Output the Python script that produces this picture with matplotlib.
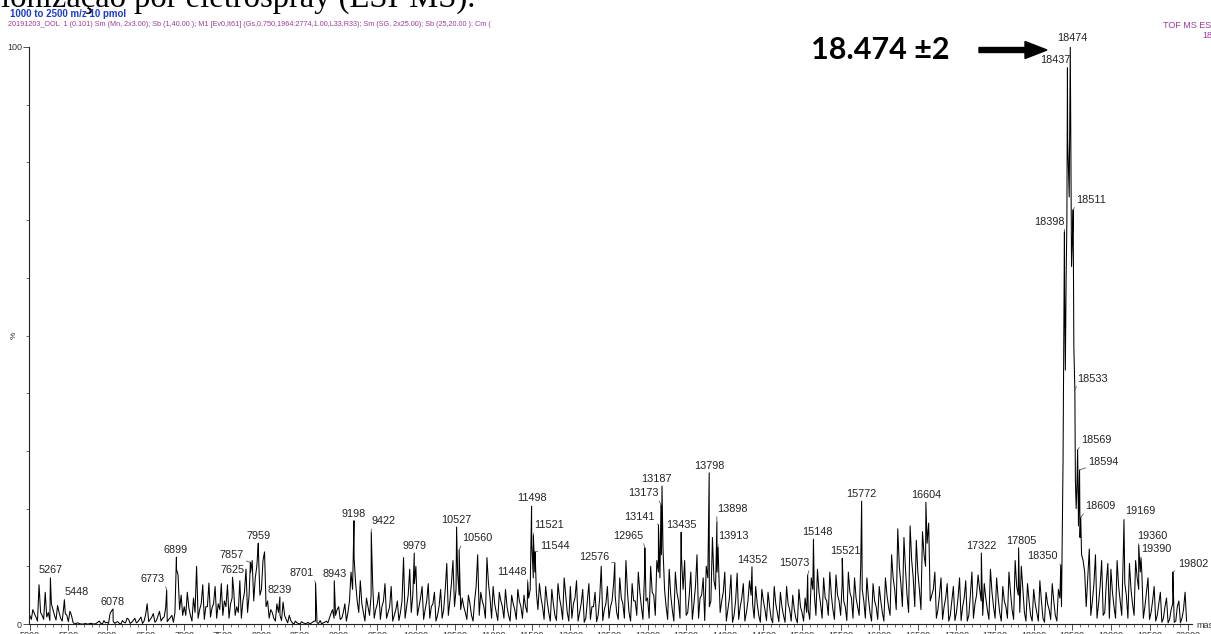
import matplotlib
matplotlib.use("Agg")
import matplotlib.pyplot as plt
from matplotlib.patches import FancyArrow
from matplotlib.transforms import IdentityTransform
from matplotlib.ticker import MultipleLocator
import numpy as np

W, H = 1211, 634

# labelled peaks: deconvoluted mass (Da) and relative intensity (%)
peak_mass = [5267, 5448, 6078, 6773, 6899, 7625, 7857, 7959, 8239, 8701,
             8943, 9198, 9422, 9979, 10527, 10560, 11448, 11498, 11521, 11544,
             12576, 12965, 13141, 13173, 13187, 13435, 13798, 13898, 13913, 14352,
             15073, 15148, 15521, 15772, 16604, 17322, 17805, 18350, 18398, 18437,
             18474, 18511, 18533, 18569, 18594, 18609, 19169, 19360, 19390, 19802]
peak_int = [8.0, 4.2, 2.6, 5.9, 11.6, 8.1, 10.7, 14.0, 4.7, 7.1,
            7.5, 17.9, 15.9, 12.3, 16.8, 12.8, 7.3, 20.4, 15.4, 12.5,
            10.6, 13.2, 17.2, 20.6, 23.9, 15.9, 26.2, 17.7, 13.3, 9.9,
            8.5, 14.7, 11.4, 21.3, 21.1, 12.3, 13.2, 10.2, 68.0, 96.4,
            100.0, 71.8, 40.6, 30.2, 26.7, 18.5, 18.0, 13.7, 11.4, 9.0]

# shoulders of the main 18.4 kDa cluster
shoulder_mass = [18390, 18410, 18430, 18490, 18550]
shoulder_int = [52, 44, 70, 62, 20]

# background trace, one value every 40 Da from 5000 Da, one list per 1000 Da
bg_start, bg_step = 5000, 40
bg_05 = [1.5, 2.5, 1.2, 6.8, 1.5, 5.5, 2.0, 3.5, 1.5, 3.2, 1.0, 3.0, 1.5,
         2.2, 0.3, 0.1, 0.1, 0.0, 0.1, 0.0, 0.1, 0.0, 0.3, 0.1, 0.6]
bg_06 = [0.3, 1.8, 0.5, 0.3, 0.1, 0.6, 0.2, 0.8, 0.3, 1.0, 0.4, 1.2, 0.5,
         3.5, 0.8, 1.8, 0.6, 2.2, 1.0, 2.8, 0.8, 1.5, 2.0, 8.5, 5.0]
bg_07 = [3.0, 5.5, 1.5, 4.5, 10.0, 2.5, 6.8, 3.0, 7.1, 2.8, 6.5, 3.5, 7.0,
         4.0, 6.8, 3.5, 6.0, 3.0, 7.5, 4.0, 9.5, 5.0, 11.0, 8.0, 13.0]
bg_08 = [6.0, 12.5, 4.0, 2.5, 1.0, 3.5, 1.5, 3.8, 0.8, 1.5, 0.2, 0.5, 0.1,
         0.4, 0.1, 0.3, 0.1, 0.5, 0.2, 0.6, 0.2, 0.5, 1.0, 2.5, 1.5]
bg_09 = [3.0, 1.0, 3.5, 2.0, 9.0, 11.4, 4.0, 7.5, 2.0, 4.5, 1.5, 7.0, 2.5,
         5.5, 3.0, 7.0, 2.0, 6.5, 1.5, 4.0, 2.0, 11.5, 3.0, 9.5, 5.0]
bg_10 = [10.0, 3.0, 6.5, 2.5, 7.0, 3.0, 5.5, 1.5, 6.0, 2.5, 10.5, 4.0, 11.0,
         6.0, 5.0, 4.5, 2.0, 5.0, 1.5, 4.0, 12.0, 5.5, 3.0, 11.5, 4.5]
bg_11 = [6.5, 2.0, 5.5, 3.0, 6.0, 1.5, 5.0, 2.5, 6.0, 3.0, 5.0, 2.0, 6.0,
         8.0, 5.5, 7.0, 3.0, 6.5, 2.0, 6.0, 1.5, 7.0, 3.0, 8.0, 2.0]
bg_12 = [6.5, 3.5, 7.5, 2.0, 6.0, 1.0, 7.0, 3.0, 5.5, 1.5, 10.0, 2.5, 6.5,
         3.0, 7.0, 2.0, 8.0, 3.5, 11.0, 2.0, 7.0, 4.0, 9.0, 3.0, 8.5]
bg_13 = [4.5, 10.0, 5.0, 11.0, 8.0, 13.0, 3.0, 9.5, 2.5, 9.0, 4.0, 11.5, 11.0,
         2.0, 9.0, 3.5, 12.0, 4.5, 8.0, 10.0, 3.0, 15.0, 6.0, 10.0, 4.0]
bg_14 = [9.0, 2.5, 8.5, 1.5, 8.8, 3.0, 7.0, 2.0, 7.5, 3.5, 6.5, 1.5, 6.0,
         2.5, 5.5, 1.0, 6.5, 2.0, 5.5, 1.5, 6.5, 2.5, 5.0, 1.0, 6.0]
bg_15 = [2.0, 4.5, 2.5, 8.0, 5.0, 9.5, 3.5, 8.0, 4.0, 9.0, 2.5, 8.5, 4.0,
         7.0, 3.0, 9.0, 4.5, 8.0, 3.0, 10.0, 4.0, 8.0, 2.0, 7.0, 3.0]
bg_16 = [6.5, 2.0, 8.0, 3.0, 12.0, 6.0, 16.5, 7.0, 15.0, 5.0, 17.0, 8.0, 14.5,
         6.0, 16.0, 10.0, 17.5, 5.0, 9.0, 2.5, 8.0, 3.0, 7.0, 1.5, 6.5]
bg_17 = [2.0, 8.0, 3.0, 7.5, 1.5, 9.0, 3.5, 8.5, 4.0, 7.0, 2.5, 9.5, 3.0,
         8.0, 2.0, 6.5, 3.0, 9.0, 2.5, 11.0, 5.0, 10.0, 2.0, 7.0, 1.5]
bg_18 = [6.0, 2.0, 7.5, 1.0, 5.5, 2.5, 7.0, 1.5, 6.0, 3.0, 58.0, 84.0, 86.0,
         48.0, 24.0, 15.0, 11.0, 3.0, 13.0, 4.0, 12.0, 3.5, 11.0, 2.0, 10.5]
bg_19 = [9.5, 3.0, 11.0, 4.0, 12.0, 5.0, 10.5, 3.5, 11.0, 6.0, 9.0, 3.0, 8.0,
         2.0, 6.5, 1.5, 5.5, 1.0, 4.5, 0.8, 3.5, 0.5, 4.0, 1.0, 5.5]

# in-between samples, every 40 Da from 5020 Da
mid_start = 5020
mid_05 = [0.8, 1.8, 0.5, 2.0, 0.8, 1.2, 0.6, 2.5, 0.7, 2.0, 0.5, 1.8, 0.4,
          1.5, 0.0, 0.2, 0.0, 0.0, 0.0, 0.1, 0.0, 0.1, 0.5, 0.0, 0.2]
mid_06 = [0.1, 2.3, 0.1, 0.4, 0.0, 0.3, 1.0, 0.1, 0.6, 0.2, 0.8, 0.1, 1.6,
          0.4, 1.2, 0.3, 1.4, 0.5, 1.2, 0.4, 1.1, 0.3, 9.5, 2.5, 1.5]
mid_07 = [1.5, 2.8, 0.5, 2.0, 1.0, 3.5, 0.8, 3.0, 1.2, 3.5, 1.0, 2.5, 1.5,
          3.0, 1.0, 4.5, 1.5, 2.0, 1.0, 5.5, 2.0, 9.0, 4.0, 10.0, 5.0]
mid_08 = [11.0, 3.0, 1.0, 2.0, 0.5, 2.0, 0.6, 1.5, 0.2, 0.6, 0.0, 0.2, 0.0,
          0.2, 0.0, 0.1, 0.3, 0.5, 0.1, 0.0, 0.3, 0.2, 1.8, 1.0, 2.5]
mid_09 = [0.8, 2.0, 0.5, 4.0, 6.0, 7.0, 2.0, 3.5, 0.5, 3.0, 5.0, 1.0, 3.5,
          0.8, 4.0, 1.0, 3.0, 0.5, 2.5, 0.6, 4.0, 1.0, 5.0, 2.0, 7.0]
mid_10 = [1.5, 4.5, 0.8, 4.0, 1.0, 3.5, 0.5, 3.0, 1.0, 6.0, 1.5, 7.0, 3.0,
          9.0, 2.5, 3.0, 0.8, 3.5, 0.5, 6.5, 1.5, 4.0, 1.0, 7.0, 1.0]
mid_11 = [3.5, 0.6, 4.0, 1.0, 3.0, 0.5, 3.5, 0.8, 4.0, 1.0, 3.0, 4.5, 14.0,
          9.0, 2.5, 4.5, 0.8, 4.0, 0.5, 3.5, 0.6, 4.5, 0.8, 5.0, 0.5]
mid_12 = [1.0, 4.5, 0.5, 3.5, 0.3, 4.0, 0.8, 3.0, 0.4, 4.5, 0.6, 3.5, 1.0,
          4.0, 5.0, 0.8, 4.5, 1.0, 5.5, 0.5, 4.0, 1.5, 5.5, 0.8, 4.0]
mid_13 = [1.0, 5.5, 1.5, 9.0, 12.0, 6.0, 0.8, 5.0, 0.5, 5.5, 1.0, 6.0, 1.5,
          5.0, 0.8, 6.5, 1.0, 5.0, 0.6, 8.0, 4.0, 7.5, 9.0, 2.0, 5.5]
mid_14 = [0.5, 4.5, 0.3, 4.0, 0.8, 4.5, 0.5, 4.0, 5.0, 1.0, 3.5, 0.3, 4.0,
          0.6, 3.0, 0.2, 3.5, 0.4, 3.0, 0.3, 3.5, 0.5, 2.5, 0.2, 3.0]
mid_15 = [0.5, 2.0, 0.8, 6.0, 1.5, 5.5, 1.0, 4.5, 1.5, 5.0, 0.8, 5.0, 1.5,
          4.0, 0.6, 5.5, 1.0, 4.5, 1.5, 6.0, 1.0, 4.5, 0.5, 4.0, 0.8]
mid_16 = [4.0, 0.5, 5.0, 1.5, 8.0, 2.5, 10.0, 3.0, 9.5, 2.0, 11.0, 3.0, 9.0,
          2.5, 12.0, 14.0, 4.0, 6.0, 1.0, 5.0, 0.8, 4.5, 0.5, 4.0, 0.6]
mid_17 = [4.5, 0.6, 4.5, 0.5, 5.0, 1.0, 5.0, 6.0, 1.5, 4.5, 0.8, 5.5, 1.0,
          4.5, 0.5, 4.0, 1.0, 5.5, 0.8, 6.5, 2.0, 6.0, 0.5, 4.0, 0.5]
mid_18 = [3.5, 0.5, 4.0, 0.3, 3.5, 0.8, 4.0, 0.5, 4.5, 28.0, 60.0, 74.0, 66.0,
          25.0, 17.0, 12.0, 9.0, 8.0, 1.5, 7.0, 1.0, 6.5, 1.5, 7.0, 1.0]
mid_19 = [5.5, 1.0, 6.5, 1.5, 7.0, 1.0, 6.0, 1.5, 8.0, 9.0, 1.0, 5.5, 0.8,
          4.0, 0.5, 3.5, 0.3, 3.0, 0.2, 2.5, 0.3, 3.0, 0.2, 2.5, 0.5]

# label offsets in pixels (dx, up) where they sit away from the peak
label_offset = {5267: (0, 8), 5448: (12, 8), 6773: (-14, 11), 6899: (-1, 7),
                7857: (-19, 7), 8701: (-14, 10), 9422: (12, 11), 10560: (18, 12),
                11448: (-16, 10), 11498: (0, 8), 11521: (16, 10), 11544: (20, 6),
                12576: (-21, 6), 12965: (-17, 12), 13141: (-19, 8), 13173: (-18, 12),
                13187: (-6, 7), 13898: (15, 13), 13913: (15, 11), 15073: (-13, 12),
                15148: (4, 7), 15521: (3, 7), 17805: (3, 7), 18350: (-18, 9),
                18398: (-15, 10), 18437: (-12, 8), 18474: (2, 9), 18511: (18, 10),
                18533: (18, 11), 18569: (19, 10), 18594: (24, 8), 18609: (20, 11),
                19169: (16, 9), 19360: (14, 9), 19390: (15, 9), 19802: (20, 8)}

plt.rcParams['font.family'] = 'Liberation Sans'


def fx(px):
    return px / W


def fy(py):
    return 1 - py / H


bg_int = (bg_05 + bg_06 + bg_07 + bg_08 + bg_09 + bg_10 + bg_11 + bg_12
          + bg_13 + bg_14 + bg_15 + bg_16 + bg_17 + bg_18 + bg_19)
bg_mass = bg_start + bg_step * np.arange(len(bg_int))
mid_int = (mid_05 + mid_06 + mid_07 + mid_08 + mid_09 + mid_10 + mid_11 + mid_12
           + mid_13 + mid_14 + mid_15 + mid_16 + mid_17 + mid_18 + mid_19)
mid_mass = mid_start + bg_step * np.arange(len(mid_int))

mass = np.concatenate([bg_mass, mid_mass, peak_mass, shoulder_mass]).astype(float)
inten = np.concatenate([bg_int, mid_int, peak_int, shoulder_int]).astype(float)
order = np.argsort(mass, kind='stable')

fig = plt.figure(figsize=(W / 100, H / 100), dpi=100)
ax = fig.add_axes([fx(29), fy(624), fx(1192) - fx(29), fy(47) - fy(624)])

ax.plot(mass[order], inten[order], color='black', lw=0.75)

for m, v in zip(peak_mass, peak_int):
    dx, up = label_offset.get(m, (0, 7))
    arrow = None
    if abs(dx) > 6:
        arrow = dict(arrowstyle='-', color='0.35', lw=0.6, shrinkA=0, shrinkB=0,
                     relpos=(1, 0) if dx < 0 else (0, 0))
    ax.annotate(str(m), xy=(m, v), xytext=(dx, up), textcoords='offset pixels',
                ha='center', va='center', fontsize=7.8, color='#222222',
                arrowprops=arrow, annotation_clip=False)

ax.set_xlim(4990, 20050)
ax.set_ylim(0, 100)
ax.xaxis.set_major_locator(MultipleLocator(500))
ax.xaxis.set_minor_locator(MultipleLocator(100))
ax.set_yticks([0, 100])
ax.yaxis.set_minor_locator(MultipleLocator(10))
ax.tick_params(which='major', direction='out', length=4, width=0.6,
               labelsize=6.5, pad=1, colors='#333333')
ax.tick_params(which='minor', direction='out', length=2, width=0.5, colors='#333333')
for side in ('top', 'right'):
    ax.spines[side].set_visible(False)
for side in ('left', 'bottom'):
    ax.spines[side].set_linewidth(0.8)
    ax.spines[side].set_color('#222222')

# header lines
fig.text(fx(1), fy(6.5), "ionização por eletrospray (ESI-MS).", family='Liberation Serif',
         fontsize=23.5, ha='left', va='baseline')
fig.text(fx(10), fy(14), "1000 to 2500 m/z 10 pmol", color='#1c3ccf',
         fontweight='bold', fontsize=7, ha='left', va='center')
fig.text(fx(8), fy(24.5),
         "20191203_OOL  1 (0.101) Sm (Mn, 2x3.00); Sb (1,40.00 ); M1 [Ev0,It61] "
         "(Gs,0.750,1964:2774,1.00,L33,R33); Sm (SG, 2x25.00); Sb (25,20.00 ); Cm (",
         color='#9b3b9b', fontsize=5.2, ha='left', va='center')
fig.text(fx(1163), fy(25), "TOF MS ES+", color='#9b3b9b', fontsize=6.5,
         ha='left', va='center')
fig.text(fx(1212), fy(36), "18", color='#9b3b9b', fontsize=6.5, ha='right', va='center')
fig.text(fx(14), fy(335), "%", rotation=90, fontsize=6, color='#333333',
         ha='center', va='center')
fig.text(fx(1196), fy(625), "mass", fontsize=6.5, color='#333333', ha='left', va='center')

# mass callout with arrow
fig.text(fx(880), fy(50), "18.474 ±2", family='Lato', fontweight='bold',
         fontsize=22, ha='center', va='center')
fig.add_artist(FancyArrow(979, H - 50, 68, 0, width=5, head_width=17, head_length=22,
                          length_includes_head=True, color='black',
                          transform=IdentityTransform()))

fig.savefig("out.png", dpi=100)
